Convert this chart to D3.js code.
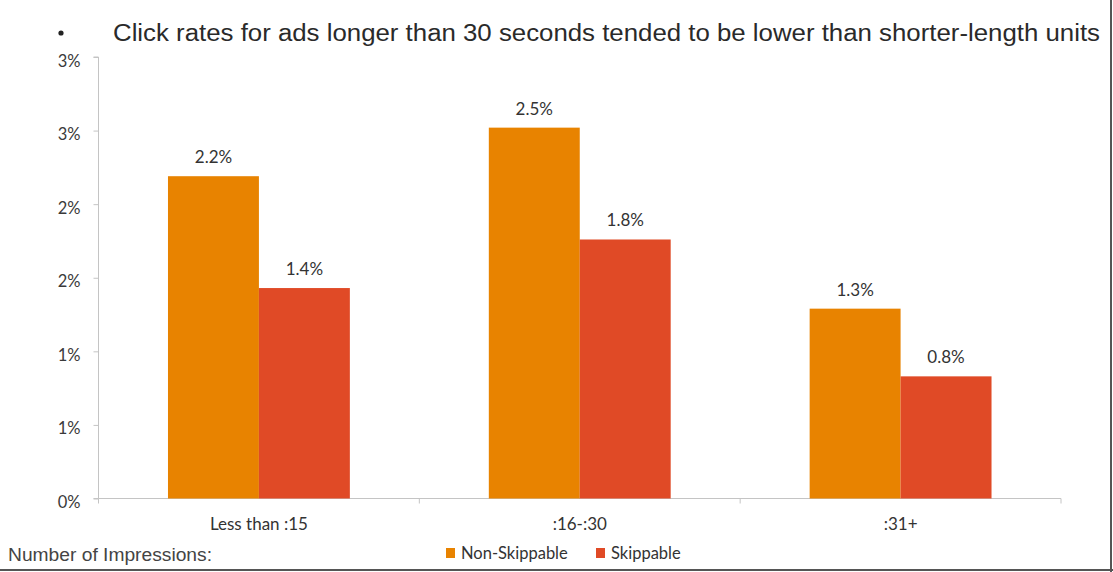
<!DOCTYPE html>
<html><head><meta charset="utf-8">
<script src="https://cdn.jsdelivr.net/npm/d3@7"></script>
<style>html,body{margin:0;padding:0;background:#fff;}svg{display:block;}</style>
</head><body>
<svg id="chart" width="1113" height="572"></svg>
<script>
const title = "Click rates for ads longer than 30 seconds tended to be lower than shorter-length units";
const categories = ["Less than :15", ":16-:30", ":31+"];
const seriesNames = ["Non-Skippable", "Skippable"];
const nonSkippable = [2.19, 2.52, 1.29];
const skippable = [1.43, 1.76, 0.83];
const yTickValues = [0, 0.5, 1, 1.5, 2, 2.5, 3];
const yTickLabels = ["0%", "1%", "1%", "2%", "2%", "3%", "3%"];
const legendTitle = "Number of Impressions:";
const colors = ["#E88300", "#E04A26"];

const svg = d3.select("#chart");
const plotL = 98.5, plotR = 1061, plotT = 57, plotB = 498.5;
const labelFont = "Lato, Carlito, sans-serif";

const x0 = d3.scaleBand().domain(categories).range([plotL, plotR]).padding(0);
const x1 = d3.scaleBand().domain(seriesNames).range([0, x0.bandwidth()]).paddingInner(0).paddingOuter(0.764);
const y = d3.scaleLinear().domain([0, 3]).range([plotB, plotT]);

// title
svg.append("circle").attr("cx", 61).attr("cy", 33).attr("r", 2.6).attr("fill", "#222");
svg.append("text").attr("x", 113).attr("y", 41)
  .attr("font-family", "Liberation Sans, Arial, sans-serif").attr("font-size", 23.5)
  .attr("fill", "#2a2a2a").attr("textLength", 987).attr("lengthAdjust", "spacingAndGlyphs").text(title);

// y axis
const yAxis = d3.axisLeft(y).tickValues(yTickValues).tickFormat((d, i) => yTickLabels[i]).tickSize(5).tickPadding(13);
const gy = svg.append("g").attr("transform", `translate(${plotL},0)`).call(yAxis);
gy.select(".domain").attr("stroke", "#c4c4c4").attr("d", `M-5,${plotT}H0V${plotB}H-5`);
gy.selectAll(".tick line").attr("stroke", "#c4c4c4");
gy.selectAll(".tick text").attr("font-family", labelFont).attr("font-size", 16.5).attr("fill", "#3a3a3a").attr("dy", "0.55em");

// x axis
const xAxis = d3.axisBottom(x0).tickSize(0).tickPadding(19);
const gx = svg.append("g").attr("transform", `translate(0,${plotB})`).call(xAxis);
gx.select(".domain").attr("stroke", "#c4c4c4").attr("d", `M${plotL},0H${plotR}`);
gx.selectAll(".tick text").attr("font-family", labelFont).attr("font-size", 17).attr("fill", "#333");
const bounds = [plotL].concat(categories.map(c => x0(c) + x0.bandwidth()));
gx.selectAll(".sep").data(bounds).enter().append("line").attr("class", "sep")
  .attr("x1", d => d).attr("x2", d => d).attr("y1", 0).attr("y2", 5).attr("stroke", "#c4c4c4");

// bars
const data = categories.map((c, i) => ({cat: c, vals: [nonSkippable[i], skippable[i]]}));
const groups = svg.append("g").selectAll("g").data(data).enter().append("g")
  .attr("transform", d => `translate(${x0(d.cat)},0)`);
groups.selectAll("rect").data(d => d.vals.map((v, j) => ({s: seriesNames[j], v, j}))).enter().append("rect")
  .attr("x", d => x1(d.s)).attr("width", x1.bandwidth())
  .attr("y", d => y(d.v)).attr("height", d => y(0) - y(d.v))
  .attr("fill", d => colors[d.j]);
groups.selectAll("text").data(d => d.vals.map((v, j) => ({s: seriesNames[j], v, j}))).enter().append("text")
  .attr("x", d => x1(d.s) + x1.bandwidth() / 2).attr("y", d => y(d.v) - 13)
  .attr("text-anchor", "middle").attr("font-family", labelFont).attr("font-size", 17).attr("fill", "#333")
  .text(d => d3.format(".1f")(d.v) + "%");

// legend
svg.append("text").attr("x", 8).attr("y", 561).attr("font-family", "Liberation Sans, Arial, sans-serif")
  .attr("font-size", 17.5).attr("fill", "#444").attr("textLength", 204).attr("lengthAdjust", "spacingAndGlyphs").text(legendTitle);
const legX = [446, 596];
seriesNames.forEach((s, i) => {
  svg.append("rect").attr("x", legX[i]).attr("y", 548).attr("width", 9).attr("height", 10).attr("fill", colors[i]);
  svg.append("text").attr("x", legX[i] + 15).attr("y", 559).attr("font-family", labelFont)
    .attr("font-size", 16.5).attr("fill", "#333").text(s);
});

// frame borders
svg.append("line").attr("x1", 1111).attr("x2", 1111).attr("y1", 0).attr("y2", 572).attr("stroke", "#555").attr("stroke-width", 2);
svg.append("line").attr("x1", 0).attr("x2", 1113).attr("y1", 570).attr("y2", 570).attr("stroke", "#555").attr("stroke-width", 2);
</script>
</body></html>
